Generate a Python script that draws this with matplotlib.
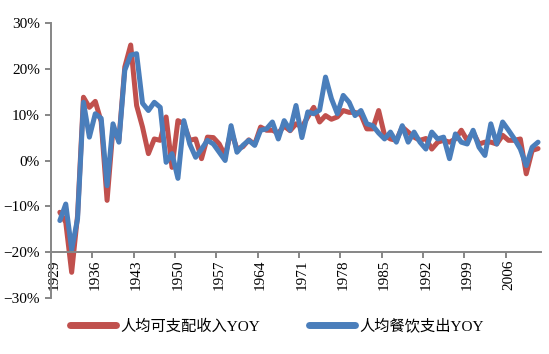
import matplotlib
matplotlib.use("Agg")
import matplotlib.pyplot as plt
from matplotlib.ticker import FixedLocator, FuncFormatter

# datos (YOY, %)
years = list(range(1930, 2012))

income_yoy = [-11.3, -13.5, -24.4, -12.0, 13.8, 11.6, 12.9, 8.5, -8.7, 7.0,
              4.4, 20.4, 25.2, 12.0, 7.3, 1.5, 4.7, 4.4, 9.5, -1.5,
              8.7, 8.0, 4.4, 4.7, 0.4, 5.1, 5.0, 3.6, 1.0, 6.5,
              2.5, 3.0, 4.5, 3.5, 7.3, 6.6, 6.6, 6.0, 7.5, 6.5,
              8.0, 7.3, 9.5, 11.6, 8.4, 9.8, 9.0, 9.5, 10.9, 10.5,
              10.5, 10.0, 6.9, 6.9, 10.9, 5.5, 4.7, 4.4, 7.3, 6.2,
              5.1, 4.4, 4.8, 2.5, 4.0, 4.4, 4.0, 4.7, 6.6, 4.4,
              6.2, 3.6, 4.0, 4.0, 3.6, 5.5, 4.4, 4.4, 4.7, -2.9,
              2.2, 2.6]

food_yoy = [-13.1, -9.5, -19.5, -12.7, 12.7, 5.1, 10.2, 9.2, -5.5, 8.0,
            4.0, 19.7, 23.0, 23.3, 12.5, 10.9, 12.7, 11.6, -0.4, 1.5,
            -3.9, 8.7, 3.6, 0.7, 2.5, 4.4, 3.6, 1.8, 0.0, 7.6,
            1.8, 3.3, 4.4, 3.3, 6.6, 6.9, 8.4, 4.7, 8.7, 6.6,
            12.0, 5.0, 10.6, 10.2, 11.0, 18.2, 13.5, 10.2, 14.2, 12.7,
            9.8, 10.9, 8.0, 7.6, 6.0, 4.7, 6.2, 4.0, 7.6, 4.0,
            6.2, 4.0, 2.5, 6.2, 4.7, 5.1, 0.4, 5.8, 4.0, 3.6,
            6.6, 2.9, 1.1, 8.0, 3.6, 8.4, 6.6, 4.7, 2.5, -1.1,
            2.9, 4.0]

label_years = list(range(1929, 2012, 7))
yticks = [-30, -20, -10, 0, 10, 20, 30]

serif_cjk = ["Liberation Serif", "Noto Sans CJK SC"]
gris = "#868686"

fig = plt.figure(figsize=(5.49, 3.54), dpi=100)
ax = fig.add_axes([51/549, 1-298/354, 490/549, 275/354])

ax.plot(years, income_yoy, color="#C0504D", lw=3.6, solid_capstyle="round",
        solid_joinstyle="round", label="人均可支配收入YOY")
ax.plot(years, food_yoy, color="#4A7EBB", lw=3.6, solid_capstyle="round",
        solid_joinstyle="round", label="人均餐饮支出YOY")

ax.set_xlim(1928.5, 2011.5)
ax.set_ylim(-30, 30)

ax.spines["top"].set_visible(False)
ax.spines["right"].set_visible(False)
ax.spines["bottom"].set_position(("data", -20))
ax.spines["bottom"].set_color(gris)
ax.spines["left"].set_color(gris)
ax.spines["bottom"].set_linewidth(1.4)
ax.spines["left"].set_linewidth(1.4)

# marcas entre categorias, etiquetas en el centro
ax.xaxis.set_major_locator(FixedLocator([y - 0.5 for y in label_years]))
ax.xaxis.set_major_formatter(FuncFormatter(lambda v, p: ""))
ax.xaxis.set_minor_locator(FixedLocator(label_years))
ax.xaxis.set_minor_formatter(FuncFormatter(lambda v, p: "%d" % round(v)))
ax.tick_params(axis="x", which="major", direction="out", length=4, width=1.4, color=gris)
ax.tick_params(axis="x", which="minor", length=0, pad=5)
for t in ax.get_xticklabels(minor=True):
    t.set_rotation(90)
    t.set_fontfamily(serif_cjk)
    t.set_fontsize(11)

ax.set_yticks(yticks)
ax.yaxis.set_major_formatter(FuncFormatter(lambda v, p: ("\u2212%d%%" % abs(v)) if v < 0 else "%d%%" % v))
ax.tick_params(axis="y", direction="out", length=4, width=1.4, color=gris, pad=4)
for t in ax.get_yticklabels():
    t.set_fontfamily(serif_cjk)
    t.set_fontsize(11)

leg = fig.legend(loc="center", bbox_to_anchor=(0.505, 0.079), ncol=2, frameon=False,
                 handlelength=3.0, handletextpad=0.3, columnspacing=3.2,
                 prop={"family": serif_cjk, "size": 11})
for l in leg.get_lines():
    l.set_linewidth(5)

fig.savefig("out.png", dpi=100)
